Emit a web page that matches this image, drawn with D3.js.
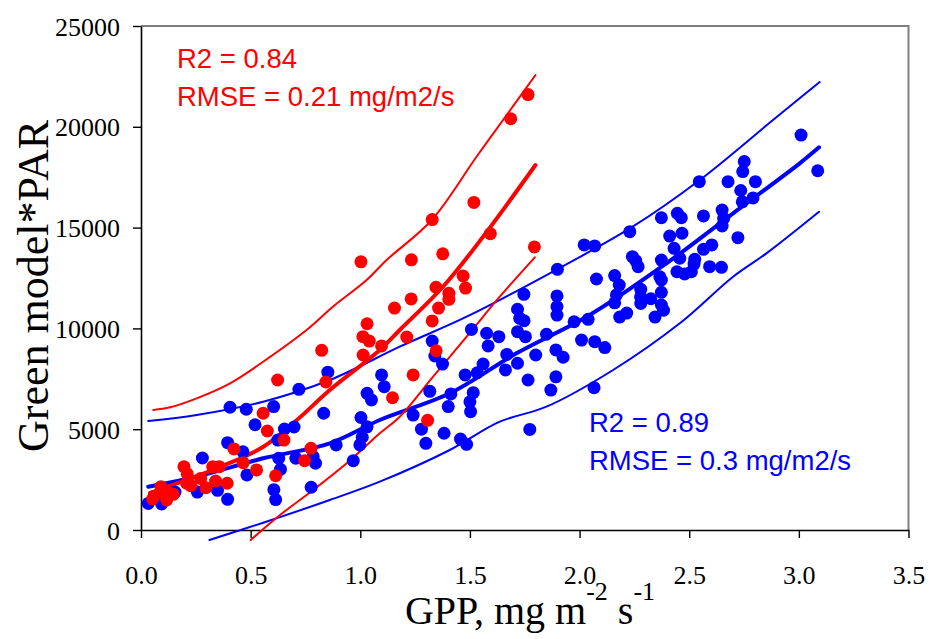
<!DOCTYPE html>
<html><head><meta charset="utf-8">
<script src="https://cdn.jsdelivr.net/npm/d3@7"></script>
<style>body{margin:0;background:#fff}svg{display:block}</style>
</head><body>
<svg id="chart" width="930" height="639"></svg>
<script>
// ---------- data ----------
const xTicks = [0, 0.5, 1.0, 1.5, 2.0, 2.5, 3.0, 3.5];
const yTicks = [0, 5000, 10000, 15000, 20000, 25000];

const redGPP = [1.765,1.686,1.518,1.328,1.593,1.794,1.376,1.003,1.233,1.469,1.480,1.345,1.404,1.404,1.232,1.156,1.357,1.328,1.031,1.012,1.041,1.097,1.212,1.013,0.824,1.346,1.241,0.843,1.147,1.307,0.775,0.623,0.557,0.576,0.652,0.424,0.466,0.746,0.527,0.614,0.327,0.357,0.196,0.211,0.272,0.340,0.393,0.296,0.208,0.227,0.091,0.094,0.129,0.147,0.117,0.053];
const redModel = [21600,20400,16250,15400,14700,14040,13700,13300,13400,12600,12000,12040,11740,11440,11460,11010,11010,10370,10230,9590,9370,9130,9570,8680,8910,8890,7690,7340,6560,5440,4050,7440,5790,4910,4460,4020,3340,3440,2980,2690,3140,3140,3140,2780,2560,2430,2320,2100,2320,2200,2150,1820,1820,1770,1490,1540];

const blueGPP = [0.033,0.094,0.155,0.257,0.349,0.395,0.280,0.406,0.480,0.605,0.833,0.520,0.654,0.698,0.624,0.395,0.465,0.628,0.706,0.785,0.796,0.636,0.483,0.606,0.614,0.776,0.890,0.998,1.009,1.031,1.003,0.968,1.031,1.051,0.852,0.720,1.746,1.717,1.727,1.747,1.717,1.753,1.849,1.632,1.576,1.583,1.507,1.328,1.340,1.375,1.668,1.662,1.717,1.800,1.765,1.560,1.533,1.478,1.413,1.401,1.515,1.500,1.503,1.317,1.241,1.279,1.299,1.382,1.457,1.485,1.773,1.097,1.109,1.897,1.897,1.897,2.077,1.975,2.039,2.181,2.183,2.215,2.279,2.279,2.325,2.373,2.373,2.383,2.344,2.373,2.009,2.069,2.115,1.892,1.925,1.892,1.869,2.066,3.010,3.086,2.751,2.744,2.677,2.802,2.735,2.546,2.791,2.742,2.650,2.657,2.650,2.565,2.446,2.464,2.373,2.467,2.411,2.229,2.722,2.603,2.565,2.431,2.457,2.525,2.522,2.593,2.647,2.444,2.479,2.510,2.373,2.366,2.241,2.256,2.267,2.160,2.168,2.160,2.278,2.021,2.069,1.899];
const blueModel = [1320,1290,1880,1880,1970,1520,3570,6090,5990,6120,5790,5220,5010,5110,4460,4330,3880,3560,3560,3640,3310,3010,2730,2000,1510,2120,4220,4220,4600,5120,5580,3440,6780,6450,7830,6980,11690,10950,10500,10380,9840,9590,9710,9590,9760,9130,9950,9370,8630,8230,8710,7940,8270,8680,7440,8230,7800,7690,6750,6120,6810,6360,5870,6880,5700,5000,4300,4800,4510,4250,4990,7690,7110,11610,11080,10660,12450,10330,10450,12150,10560,10760,11940,11240,11470,11790,11160,10900,10560,12400,9420,9340,9050,8930,8570,7600,6940,7060,19590,17820,18280,17780,17280,17280,16840,17280,16470,16280,15870,15460,15080,15580,15710,15490,15490,14720,14580,14800,14500,14140,13920,13970,13480,13430,13190,13060,13030,12810,12700,12810,13390,12560,13560,13360,13060,12620,11660,11270,11570,14140,14090,12930];

// fitted curves and prediction bands
const redFitX   = [0.041,0.360,0.556,0.711,0.861,1.089,1.180,1.376,1.559,1.799];
const redFitY   = [1835,3125,4117,5456,6944,8928,9920,12053,14533,18104];
const redUpX    = [0.056,0.132,0.254,0.406,0.557,0.755,0.875,1.029,1.120,1.326,1.530,1.651,1.799];
const redUpY    = [5952,6086,6532,7276,8348,9920,11076,12400,13392,15376,18516,20336,22568];
const redLoX    = [0.500,0.634,0.785,0.938,1.089,1.180,1.332,1.485,1.636,1.796];
const redLoY    = [-496,744,1984,3308,4796,5620,7604,9588,11572,13526];
const blueFitX  = [0.033,0.254,0.557,0.861,1.089,1.408,1.712,2.046,2.396,2.700,3.004,3.092];
const blueFitY  = [2148,2644,3556,4300,5456,6780,8764,10664,13228,15708,18188,18982];
const blueUpX   = [0.033,0.254,0.557,0.861,1.180,1.485,1.864,2.242,2.548,2.882,3.095];
const blueUpY   = [5406,5704,6364,7440,9092,10580,12732,15044,17360,20336,22221];
const blueLoX   = [0.312,0.557,0.861,1.089,1.408,1.636,1.849,2.153,2.457,2.700,2.852,3.092];
const blueLoY   = [-496,362,1488,2396,3968,5372,6116,7936,10252,12564,13724,15788];

const redStats  = ["R2 = 0.84", "RMSE = 0.21 mg/m2/s"];
const blueStats = ["R2 = 0.89", "RMSE = 0.3 mg/m2/s"];

// ---------- layout ----------
const RED = "#ff0000", BLUE = "#0000ff";
const svg = d3.select("#chart");
const L = 141, R = 908.5, T = 26, B = 530;
const x = d3.scaleLinear().domain([0, 3.5]).range([L, R]);
const y = d3.scaleLinear().domain([0, 25000]).range([B, T]);

// frame (top/right gray)
svg.append("path")
  .attr("d", `M${L},${T}H${R}V${B}`)
  .attr("fill", "none").attr("stroke", "#808080").attr("stroke-width", 2);

const serif = "'Liberation Serif','Times New Roman',serif";

const xAxis = svg.append("g").attr("transform", `translate(0,${B})`)
  .call(d3.axisBottom(x).tickValues(xTicks).tickFormat(d3.format(".1f")).tickSize(8).tickSizeOuter(0));
const yAxis = svg.append("g").attr("transform", `translate(${L},0)`)
  .call(d3.axisLeft(y).tickValues(yTicks).tickFormat(d3.format("d")).tickSize(8).tickSizeOuter(0));
[xAxis, yAxis].forEach(g => {
  g.select(".domain").attr("stroke", "#000").attr("stroke-width", 1.6);
  g.selectAll(".tick line").attr("stroke", "#000").attr("stroke-width", 1.4);
  g.selectAll(".tick text").attr("font-family", serif).attr("font-size", 26).attr("fill", "#000");
});
xAxis.selectAll(".tick text").attr("y", 0).attr("dy", 0).attr("transform", "translate(0,54)");
yAxis.selectAll(".tick text").attr("x", -21).attr("dy", "0.35em");

// axis titles
const xt = svg.append("text").attr("x", 530).attr("y", 624).attr("text-anchor", "middle")
  .attr("font-family", serif).attr("font-size", 40).attr("fill", "#000");
xt.append("tspan").text("GPP, mg m");
xt.append("tspan").attr("dy", -24).attr("font-size", 26).text("-2");
xt.append("tspan").attr("dy", 24).text(" s");
xt.append("tspan").attr("dy", -24).attr("font-size", 26).text("-1");

svg.append("text").attr("transform", "translate(48,286) rotate(-90)")
  .attr("text-anchor", "middle").attr("font-family", serif).attr("font-size", 44).attr("fill", "#000")
  .text("Green model*PAR");

// ---------- lines ----------
const line = d3.line().x(d => x(d[0])).y(d => y(d[1])).curve(d3.curveCatmullRom.alpha(0.5));
function drawLine(xs, ys, color, w) {
  svg.append("path").datum(xs.map((v, i) => [v, ys[i]]))
    .attr("d", line).attr("fill", "none").attr("stroke", color)
    .attr("stroke-width", w).attr("stroke-linecap", "round").attr("stroke-linejoin", "round");
}
drawLine(blueUpX, blueUpY, BLUE, 2);
drawLine(blueLoX, blueLoY, BLUE, 2);
drawLine(blueFitX, blueFitY, BLUE, 4);
drawLine(redUpX, redUpY, RED, 2);
drawLine(redLoX, redLoY, RED, 2);
drawLine(redFitX, redFitY, RED, 4);

// ---------- points ----------
function drawPts(xs, ys, color) {
  svg.append("g").selectAll("circle").data(xs.map((v, i) => [v, ys[i]])).join("circle")
    .attr("cx", d => x(d[0])).attr("cy", d => y(d[1])).attr("r", 6.5).attr("fill", color);
}
drawPts(blueGPP, blueModel, BLUE);
drawPts(redGPP, redModel, RED);

// ---------- annotations ----------
const sans = "'Liberation Sans',Arial,sans-serif";
function stats(lines, x0, y0, color) {
  lines.forEach((t, i) => svg.append("text").attr("x", x0).attr("y", y0 + i * 38)
    .attr("font-family", sans).attr("font-size", 27.5).attr("fill", color).text(t));
}
stats(redStats, 177, 68, RED);
stats(blueStats, 589, 432, BLUE);
</script>
</body></html>
